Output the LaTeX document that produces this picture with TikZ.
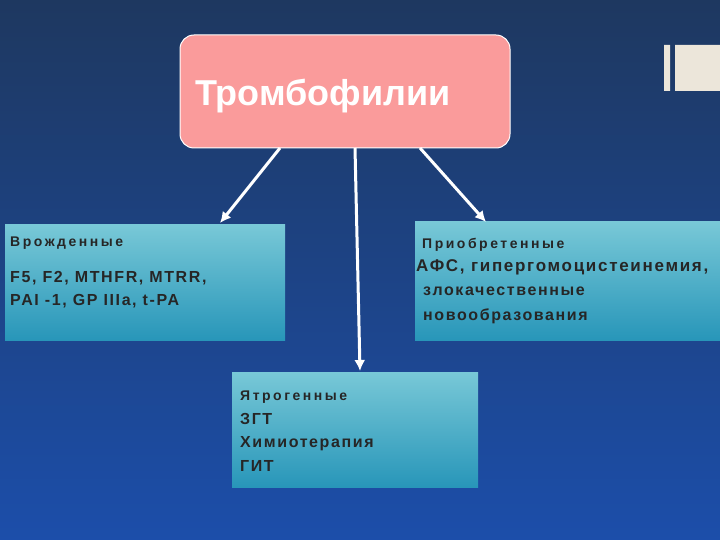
\documentclass[tikz,border=0pt]{standalone}
\usepackage{fontspec}
\setmainfont{Liberation Sans}
\newfontfamily\smallsp[LetterSpace=18]{Liberation Sans}
\newfontfamily\bodysp[LetterSpace=10]{Liberation Sans}
\usetikzlibrary{arrows.meta}
\definecolor{bgtop}{RGB}{30,56,96}
\definecolor{bgbot}{RGB}{28,78,170}
\definecolor{cream}{RGB}{236,230,218}
\definecolor{pinkf}{RGB}{250,155,155}
\definecolor{cyt}{RGB}{120,200,215}
\definecolor{cyb}{RGB}{40,150,185}
\begin{document}
\begin{tikzpicture}[x=1pt,y=-1pt,
 cbox/.style={top color=cyt,bottom color=cyb},
 lab/.style={anchor=base west,inner sep=0,font=\bodysp\bfseries\fontsize{16}{18}\selectfont,text=black!85},
 slab/.style={anchor=base west,inner sep=0,font=\smallsp\bfseries\fontsize{14}{16}\selectfont,text=black!85},
 arr/.style={draw=white,line width=3pt,-{Latex[length=11pt,width=11pt]}}]
\shade[top color=bgtop,bottom color=bgbot] (0,0) rectangle (720,540);
\useasboundingbox (0,0) rectangle (720,540);
\fill[cream] (664,45) rectangle (670,91) (675,45) rectangle (720,91);
\node[draw=white,line width=1pt,fill=pinkf,rounded corners=14pt,minimum width=330pt,minimum height=113pt] (top) at (345,91.5) {};
\node[anchor=base west,inner sep=0,text=white,font=\bfseries\fontsize{36}{40}\selectfont] (tt) at (195,106) {Тромбофилии};
\shade[cbox] (5,225) rectangle (285,340);
\coordinate (l) at (220,223);
\shade[cbox] (415,222) rectangle (720,340);
\coordinate (r) at (486,222);
\shade[cbox] (232,372) rectangle (478,487);
\coordinate (b) at (360,371);
\coordinate (s1) at (280,148);\coordinate (s2) at (355,148);\coordinate (s3) at (420,148);
\draw[arr] (s1) -- (l);
\draw[arr] (s2) -- (b);
\draw[arr] (s3) -- (r);
\node[slab] (a1) at (10,246) {Врожденные};
\node[lab] (a2) at (10,282) {F5, F2, MTHFR, MTRR,};
\node[lab] (a3) at (10,305) {PAI -1, GP IIIa, t-PA};
\node[slab] (c1) at (422,248) {Приобретенные};
\node[lab,font=\bodysp\bfseries\fontsize{17}{19}\selectfont] (c2) at (416,271) {АФС, гипергомоцистеинемия,};
\node[lab] (c3) at (423,295) {злокачественные};
\node[lab] (c4) at (423,320) {новообразования};
\node[slab] (d1) at (240,400) {Ятрогенные};
\node[lab] (d2) at (240,424) {ЗГТ};
\node[lab] (d3) at (240,447) {Химиотерапия};
\node[lab] (d4) at (240,471) {ГИТ};
\end{tikzpicture}
\end{document}
